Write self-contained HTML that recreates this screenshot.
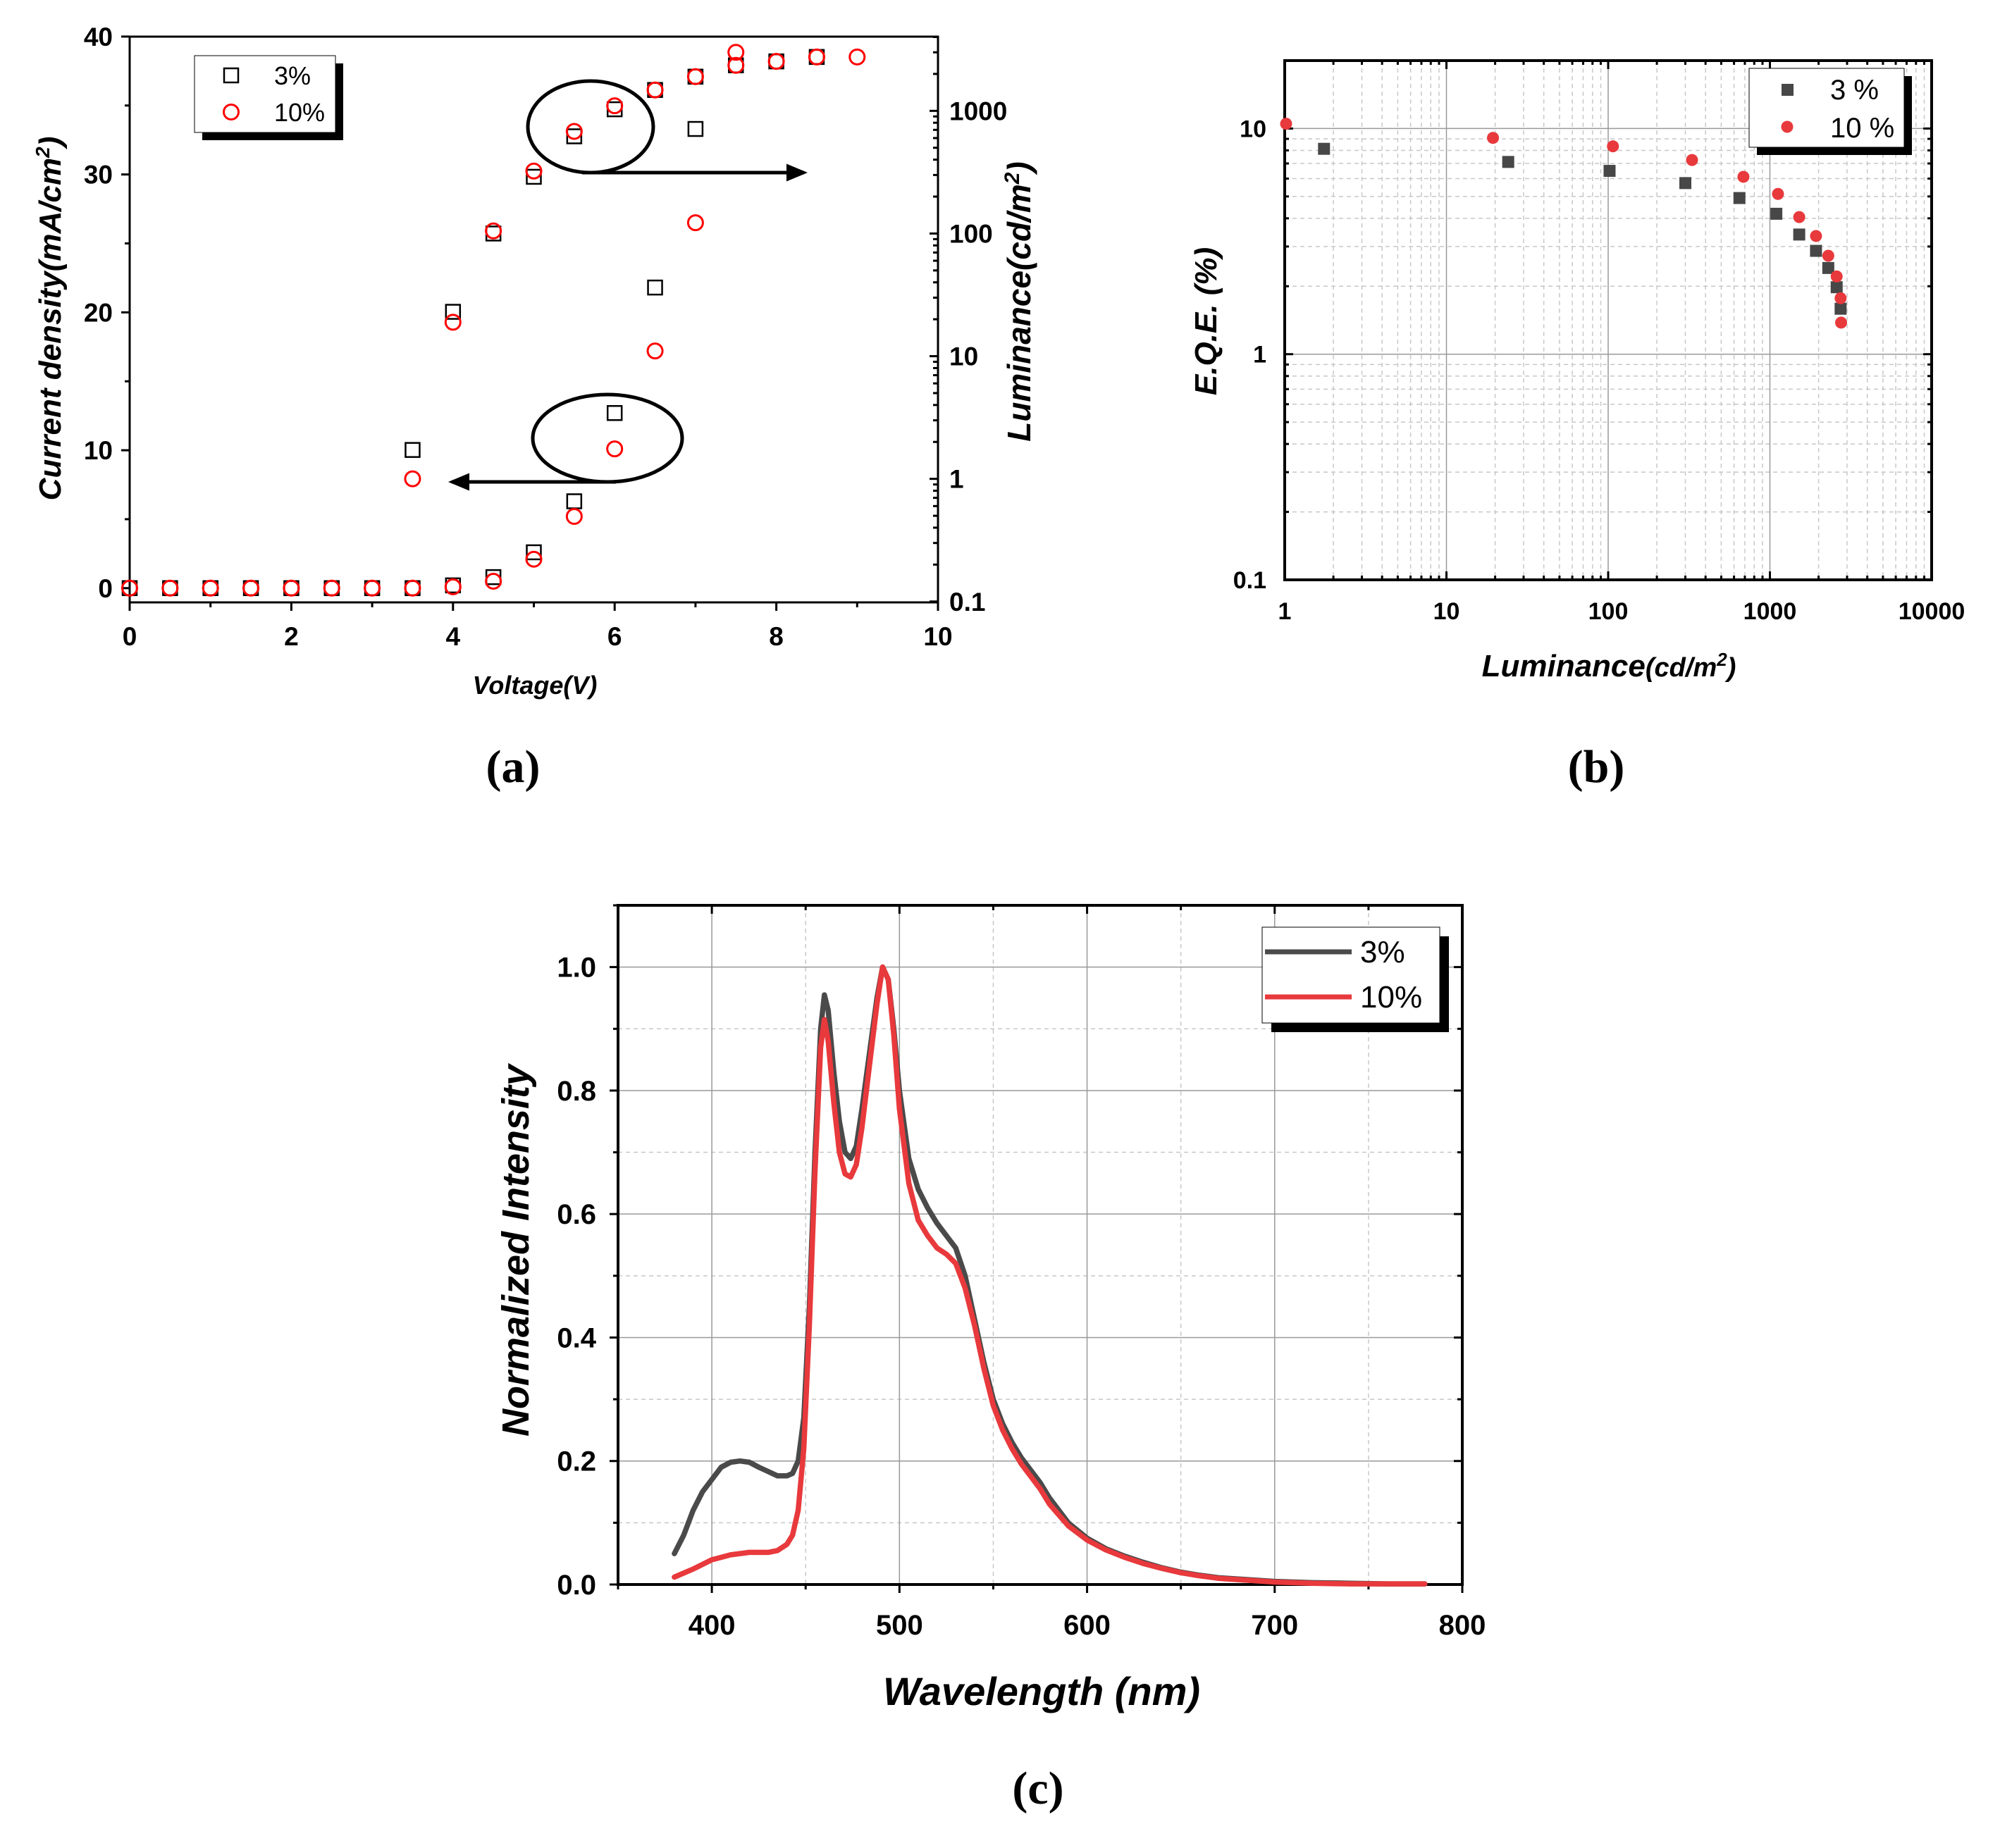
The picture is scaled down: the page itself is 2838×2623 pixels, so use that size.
<!DOCTYPE html>
<html><head><meta charset="utf-8">
<style>
html,body{margin:0;padding:0;background:#fff;}
svg{display:block;}
text{font-family:"Liberation Sans",sans-serif;}
.nar{font-family:"Liberation Sans Narrow","Liberation Sans",sans-serif;font-stretch:condensed;}
</style></head>
<body>
<svg id="fig" xmlns="http://www.w3.org/2000/svg" width="2838" height="2623" viewBox="0 0 2838 2623">
<rect width="2838" height="2623" fill="#fff"/>
<g id="pa"></g>
<g id="pb"></g>
<g id="pc"></g>
</svg>
<script>
// ---------- Panel (a) data ----------
const aVolt = [0,0.5,1,1.5,2,2.5,3,3.5,4,4.5,5,5.5,6,6.5,7];
const aJ3 = [0,0,0,0,0,0,0,0,0.2,0.8,2.6,6.3,12.7,21.8,33.3];
const aJ10 = [0,0,0,0,0,0,0,0,0.1,0.5,2.1,5.2,10.1,17.2,26.5];
const aLVolt3 = [3.5,4,4.5,5,5.5,6,6.5,7,7.5,8,8.5];
const aL3 = [1.72,23,100,290,620,1030,1480,1900,2350,2530,2750];
const aLVolt10 = [3.5,4,4.5,5,5.5,6,6.5,7,7.5,7.5,8,8.5,9];
const aL10 = [1.0,18.9,105,323,680,1100,1480,1900,2350,3000,2530,2750,2750];
const aXTicks = [0,2,4,6,8,10];
const aYTicks = [0,10,20,30,40];
const aRTicks = [0.1,1,10,100,1000];
const aRLabels = ["0.1","1","10","100","1000"];
// ---------- Panel (b) data ----------
const bL3 = [1.75,24.1,102,300,648,1096,1518,1928,2296,2587,2736];
const bE3 = [8.13,7.11,6.49,5.73,4.92,4.19,3.39,2.87,2.41,1.98,1.59];
const bL10 = [1.02,19.4,107,330,686,1122,1518,1928,2296,2587,2736,2755];
const bE10 = [10.5,9.09,8.34,7.25,6.11,5.13,4.05,3.34,2.73,2.21,1.77,1.38];
const bXTicks = [1,10,100,1000,10000];
const bYTicks = [0.1,1,10];
const bYLabels = ["0.1","1","10"];
// ---------- Panel (c) data ----------
const cWl3 = [380,385,390,395,400,405,410,415,420,425,430,435,440,443,446,449,452,455,458,460,462,465,468,471,474,477,480,484,488,491,494,497,500,505,510,515,520,525,530,535,540,545,550,555,560,565,570,575,580,590,600,610,620,630,640,650,660,670,680,690,700,720,740,760,780];
const cI3 = [0.05,0.08,0.12,0.15,0.17,0.19,0.198,0.2,0.198,0.19,0.183,0.176,0.176,0.18,0.2,0.27,0.45,0.7,0.9,0.955,0.93,0.83,0.75,0.7,0.69,0.71,0.77,0.86,0.95,1.0,0.98,0.9,0.8,0.69,0.64,0.61,0.585,0.565,0.545,0.5,0.43,0.36,0.3,0.26,0.23,0.205,0.185,0.165,0.14,0.1,0.075,0.058,0.046,0.036,0.027,0.02,0.015,0.011,0.009,0.007,0.005,0.003,0.002,0.001,0.001];
const cWl10 = [380,390,400,410,420,430,435,440,443,446,449,452,455,458,460,462,465,468,471,474,477,480,484,488,491,494,497,500,505,510,515,520,525,530,535,540,545,550,555,560,565,570,575,580,590,600,610,620,630,640,650,660,670,680,690,700,720,740,760,780];
const cI10 = [0.012,0.025,0.04,0.048,0.052,0.052,0.055,0.065,0.08,0.12,0.22,0.42,0.67,0.87,0.915,0.88,0.78,0.7,0.665,0.66,0.68,0.74,0.84,0.94,1.0,0.98,0.89,0.77,0.65,0.59,0.565,0.545,0.535,0.52,0.48,0.42,0.35,0.29,0.25,0.22,0.195,0.175,0.155,0.13,0.095,0.072,0.056,0.044,0.034,0.026,0.019,0.014,0.010,0.008,0.006,0.004,0.002,0.001,0.001,0.001];
const cXTicks = [400,500,600,700,800];
const cYTicks = [0,0.2,0.4,0.6,0.8,1.0];

const NS="http://www.w3.org/2000/svg";
function mk(parent,tag,attrs,txt){const e=document.createElementNS(NS,tag);for(const k in attrs)e.setAttribute(k,attrs[k]);if(txt!==undefined)e.textContent=txt;parent.appendChild(e);return e;}

// ================= PANEL A =================
(function(){
const g=document.getElementById('pa');
const L=184,R=1331,T=52,B=855;
const xA=v=>L+(v-0)/10*(R-L);
const y0=834.8,yPer=(834.8-51.9)/40;
const yA=v=>y0-v*yPer;
const rTop=3.605,rBot=-1.007;
const yR=v=>T+(rTop-Math.log10(v))/(rTop-rBot)*(B-T);
let e;
e=mk(g,'rect',{x:L,y:T,width:R-L,height:B-T,fill:'none',stroke:'#000','stroke-width':3});

for(let v=0;v<=10;v+=1){const big=v%2===0;mk(g,'line',{x1:xA(v),x2:xA(v),y1:B,y2:B+(big?12:7),stroke:'#000','stroke-width':3});}
aXTicks.forEach(v=>{e=mk(g,'text',{x:xA(v),y:916,'text-anchor':'middle','font-size':37,'font-weight':'bold',class:'nar'},String(v));
});
for(let v=0;v<=40;v+=5){const big=v%10===0;mk(g,'line',{x1:L,x2:L-(big?12:7),y1:yA(v),y2:yA(v),stroke:'#000','stroke-width':3});}
aYTicks.forEach(v=>{e=mk(g,'text',{x:160,y:yA(v)+13,'text-anchor':'end','font-size':37,'font-weight':'bold',class:'nar'},String(v));
});
for(let d=-1;d<=3;d++){for(let m=1;m<=9;m++){const v=m*Math.pow(10,d);const yy=yR(v);if(yy<T)continue;mk(g,'line',{x1:R,x2:R-(m===1?12:7),y1:yy,y2:yy,stroke:'#000','stroke-width':3});}}
aRTicks.forEach((v,i)=>{e=mk(g,'text',{x:1347,y:yR(v)+13,'font-size':37,'font-weight':'bold',class:'nar'},aRLabels[i]);
});
function sq(x,y){e=mk(g,'rect',{x:x-10,y:y-10,width:20,height:20,fill:'none',stroke:'#000','stroke-width':2.5});return e;}
function ci(x,y){e=mk(g,'circle',{cx:x,cy:y,r:10.5,fill:'none',stroke:'#f00','stroke-width':3});return e;}
aVolt.forEach((v,i)=>{e=sq(xA(v),yA(aJ3[i]));});
aLVolt3.forEach((v,i)=>{e=sq(xA(v),yR(aL3[i]));});
aVolt.forEach((v,i)=>{e=ci(xA(v),yA(aJ10[i]));});
aLVolt10.forEach((v,i)=>{e=ci(xA(v),yR(aL10[i]));});
mk(g,'defs',{}).innerHTML='<marker id="ah" markerWidth="6" markerHeight="6" refX="5" refY="3" orient="auto" markerUnits="strokeWidth"><path d="M0,0.5 L6,3 L0,5.5 Z" fill="#000"/></marker>';
e=mk(g,'ellipse',{cx:838,cy:180,rx:89,ry:65,fill:'none',stroke:'#000','stroke-width':5});

e=mk(g,'line',{x1:826,y1:245,x2:1141,y2:245,stroke:'#000','stroke-width':5,'marker-end':'url(#ah)'});

e=mk(g,'ellipse',{cx:862,cy:622,rx:106,ry:62,fill:'none',stroke:'#000','stroke-width':5});

e=mk(g,'line',{x1:874,y1:684,x2:641,y2:684,stroke:'#000','stroke-width':5,'marker-end':'url(#ah)'});

mk(g,'rect',{x:287,y:90,width:200,height:109,fill:'#000'});
e=mk(g,'rect',{x:276,y:79,width:200,height:109,fill:'#fff',stroke:'#000','stroke-width':1});

sq(328,107);ci(328,159);
e=mk(g,'text',{x:389,y:120,'font-size':36,class:'nar'},'3%');
e=mk(g,'text',{x:389,y:172,'font-size':36,class:'nar'},'10%');
e=mk(g,'text',{x:759,y:985,'text-anchor':'middle','font-size':36,'font-weight':'bold','font-style':'italic',class:'nar'},'Voltage(V)');

e=mk(g,'text',{transform:'translate(86,452) rotate(-90)','text-anchor':'middle','font-size':44,'font-weight':'bold','font-style':'italic'});
e.innerHTML='Current density(mA/cm<tspan dy="-16" font-size="28">2</tspan><tspan dy="16">)</tspan>';

e=mk(g,'text',{transform:'translate(1462,428) rotate(-90)','text-anchor':'middle','font-size':46,'font-weight':'bold','font-style':'italic'});
e.innerHTML='Luminance(cd/m<tspan dy="-16" font-size="30">2</tspan><tspan dy="16">)</tspan>';

e=mk(g,'text',{x:728,y:1110,'text-anchor':'middle','font-size':66,'font-weight':'bold',style:'font-family:"Liberation Serif",serif'},'(a)');

})();

// ================= PANEL B =================
(function(){
const g=document.getElementById('pb');
const L=1823,R=2741,T=86,B=823;
const xB=v=>L+Math.log10(v)/4*(R-L);
const yTop=Math.log10(20),yBot=-1;
const yB=v=>T+(yTop-Math.log10(v))/(yTop-yBot)*(B-T);
let e;
for(let d=0;d<4;d++)for(let m=2;m<=9;m++){const x=xB(m*Math.pow(10,d));mk(g,'line',{x1:x,x2:x,y1:T,y2:B,stroke:'#c8c8c8','stroke-width':1.5,'stroke-dasharray':'6,5'});}
for(let d=-1;d<=1;d++)for(let m=2;m<=9;m++){const v=m*Math.pow(10,d);if(v>20)continue;const y=yB(v);mk(g,'line',{x1:L,x2:R,y1:y,y2:y,stroke:'#c8c8c8','stroke-width':1.5,'stroke-dasharray':'6,5'});}
bXTicks.forEach(v=>mk(g,'line',{x1:xB(v),x2:xB(v),y1:T,y2:B,stroke:'#999','stroke-width':1.5}));
bYTicks.forEach(v=>mk(g,'line',{x1:L,x2:R,y1:yB(v),y2:yB(v),stroke:'#999','stroke-width':1.5}));
e=mk(g,'rect',{x:L,y:T,width:R-L,height:B-T,fill:'none',stroke:'#000','stroke-width':4});

for(let d=0;d<=4;d++)for(let m=1;m<=9;m++){const v=m*Math.pow(10,d);if(v>10000)continue;const x=xB(v),l=m===1?12:6;
mk(g,'line',{x1:x,x2:x,y1:B,y2:B-l,stroke:'#000','stroke-width':3});mk(g,'line',{x1:x,x2:x,y1:T,y2:T+l,stroke:'#000','stroke-width':3});}
for(let d=-1;d<=1;d++)for(let m=1;m<=9;m++){const v=m*Math.pow(10,d);if(v>20)continue;const y=yB(v),l=m===1?12:6;
mk(g,'line',{x1:L,x2:L+l,y1:y,y2:y,stroke:'#000','stroke-width':3});mk(g,'line',{x1:R,x2:R-l,y1:y,y2:y,stroke:'#000','stroke-width':3});}
bXTicks.forEach(v=>{e=mk(g,'text',{x:xB(v),y:879,'text-anchor':'middle','font-size':34,'font-weight':'bold'},String(v));
});
bYTicks.forEach((v,i)=>{e=mk(g,'text',{x:1797,y:yB(v)+12,'text-anchor':'end','font-size':34,'font-weight':'bold'},bYLabels[i]);
});
bL3.forEach((v,i)=>{e=mk(g,'rect',{x:xB(v)-8.5,y:yB(bE3[i])-8.5,width:17,height:17,fill:'#474747'});
});
bL10.forEach((v,i)=>{e=mk(g,'circle',{cx:xB(v),cy:yB(bE10[i]),r:8.5,fill:'#e8393c'});
});
mk(g,'rect',{x:2493,y:108,width:220,height:112,fill:'#000'});
e=mk(g,'rect',{x:2482,y:97,width:220,height:112,fill:'#fff',stroke:'#000','stroke-width':1});

mk(g,'rect',{x:2528,y:119,width:17,height:17,fill:'#474747'});
mk(g,'circle',{cx:2536,cy:180,r:8.5,fill:'#e8393c'});
e=mk(g,'text',{x:2597,y:141,'font-size':40},'3 %');
e=mk(g,'text',{x:2597,y:195,'font-size':40},'10 %');
e=mk(g,'text',{x:2283,y:960,'text-anchor':'middle','font-size':44,'font-weight':'bold','font-style':'italic'});
e.innerHTML='Luminance<tspan font-size="38">(cd/m</tspan><tspan dy="-15" font-size="26">2</tspan><tspan dy="15" font-size="38">)</tspan>';

e=mk(g,'text',{transform:'translate(1726,456) rotate(-90)','text-anchor':'middle','font-size':44,'font-weight':'bold','font-style':'italic'},'E.Q.E. (%)');

e=mk(g,'text',{x:2265,y:1110,'text-anchor':'middle','font-size':66,'font-weight':'bold',style:'font-family:"Liberation Serif",serif'},'(b)');

})();

// ================= PANEL C =================
(function(){
const g=document.getElementById('pc');
const L=877,R=2075,T=1285,B=2249;
const xC=v=>L+(v-350)/450*(R-L);
const yC=v=>B-v/1.1*(B-T);
let e;
for(let v=450;v<800;v+=100)mk(g,'line',{x1:xC(v),x2:xC(v),y1:T,y2:B,stroke:'#c8c8c8','stroke-width':1.5,'stroke-dasharray':'6,5'});
for(let v=0.1;v<1.1;v+=0.2)mk(g,'line',{x1:L,x2:R,y1:yC(v),y2:yC(v),stroke:'#c8c8c8','stroke-width':1.5,'stroke-dasharray':'6,5'});
cXTicks.forEach(v=>mk(g,'line',{x1:xC(v),x2:xC(v),y1:T,y2:B,stroke:'#999','stroke-width':1.5}));
cYTicks.forEach(v=>mk(g,'line',{x1:L,x2:R,y1:yC(v),y2:yC(v),stroke:'#999','stroke-width':1.5}));
e=mk(g,'rect',{x:L,y:T,width:R-L,height:B-T,fill:'none',stroke:'#000','stroke-width':4});

for(let v=350;v<=800;v+=50){const big=v%100===0;mk(g,'line',{x1:xC(v),x2:xC(v),y1:B,y2:B+(big?12:7),stroke:'#000','stroke-width':3});mk(g,'line',{x1:xC(v),x2:xC(v),y1:T,y2:T+(big?12:7),stroke:'#000','stroke-width':3});}
for(let i=0;i<=11;i++){const v=i/10,big=i%2===0;mk(g,'line',{x1:L,x2:L-(big?12:7),y1:yC(v),y2:yC(v),stroke:'#000','stroke-width':3});mk(g,'line',{x1:R,x2:R-(big?12:7),y1:yC(v),y2:yC(v),stroke:'#000','stroke-width':3});}
cXTicks.forEach(v=>{e=mk(g,'text',{x:xC(v),y:2320,'text-anchor':'middle','font-size':40,'font-weight':'bold'},String(v));
});
cYTicks.forEach(v=>{e=mk(g,'text',{x:846,y:yC(v)+14,'text-anchor':'end','font-size':40,'font-weight':'bold'},v.toFixed(1));
});
function path(xs,ys){return xs.map((x,i)=>(i?'L':'M')+xC(x).toFixed(1)+','+yC(ys[i]).toFixed(1)).join(' ');}
e=mk(g,'path',{d:path(cWl3,cI3),fill:'none',stroke:'#4a4a4a','stroke-width':7.5,'stroke-linejoin':'round','stroke-linecap':'round'});

e=mk(g,'path',{d:path(cWl10,cI10),fill:'none',stroke:'#e8393c','stroke-width':7.5,'stroke-linejoin':'round','stroke-linecap':'round'});

mk(g,'rect',{x:1804,y:1329,width:252,height:136,fill:'#000'});
e=mk(g,'rect',{x:1791,y:1316,width:252,height:136,fill:'#fff',stroke:'#000','stroke-width':1});

mk(g,'line',{x1:1795,x2:1918,y1:1351,y2:1351,stroke:'#4a4a4a','stroke-width':7});
mk(g,'line',{x1:1795,x2:1918,y1:1415,y2:1415,stroke:'#e8393c','stroke-width':7});
e=mk(g,'text',{x:1930,y:1366,'font-size':44},'3%');
e=mk(g,'text',{x:1930,y:1430,'font-size':44},'10%');
e=mk(g,'text',{x:1478,y:2420,'text-anchor':'middle','font-size':56,'font-weight':'bold','font-style':'italic'},'Wavelength (nm)');

e=mk(g,'text',{transform:'translate(750,1775) rotate(-90)','text-anchor':'middle','font-size':54,'font-weight':'bold','font-style':'italic'},'Normalized Intensity');

e=mk(g,'text',{x:1473,y:2560,'text-anchor':'middle','font-size':66,'font-weight':'bold',style:'font-family:"Liberation Serif",serif'},'(c)');

})();
</script>
</body></html>
